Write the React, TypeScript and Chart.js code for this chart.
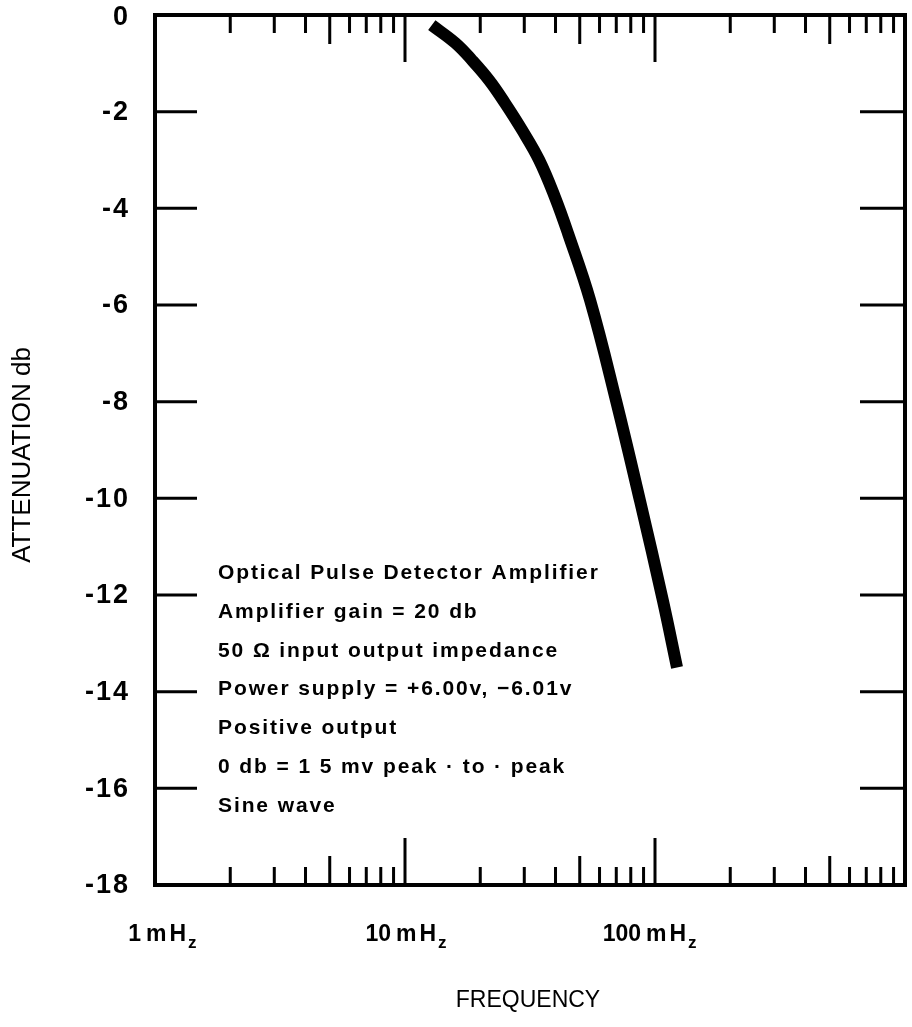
import React, { useEffect, useRef } from "react";
import { Chart, registerables } from "chart.js";

Chart.register(...registerables);

// Curve data (frequency in mHz, attenuation in db)
const frequencies = [12.8, 15.9, 18.5, 21.7, 25.1, 29.4, 34.4, 39.8, 44.9, 55.0, 69.8, 87.1, 107.6, 122.5];
const attenuation = [-0.21, -0.58, -0.93, -1.35, -1.82, -2.38, -3.0, -3.77, -4.52, -5.9, -7.97, -10.05, -12.12, -13.5];

// Axis ticks
const yTicks = [0, -2, -4, -6, -8, -10, -12, -14, -16, -18];
const yTickLabels = ["0", "-2", "-4", "-6", "-8", "-10", "-12", "-14", "-16", "-18"];
const xDecades = [1, 10, 100];
const xDecadeLabels = ["1", "10", "100"];
const xMinorMultipliers = [2, 3, 4, 5, 6, 7, 8, 9];

const yTitle = "ATTENUATION db";
const xTitle = "FREQUENCY";
const annotationLines = [
  "Optical Pulse Detector Amplifier",
  "Amplifier gain = 20 db",
  "50 \u03A9 input output impedance",
  "Power supply = +6.00v, \u22126.01v",
  "Positive output",
  "0 db = 1 5 mv peak \u00B7 to \u00B7 peak",
  "Sine wave",
];

const framePlugin = {
  id: "framePlugin",
  afterDraw(chart: any) {
    const { ctx, chartArea } = chart;
    const xs = chart.scales.x;
    const ys = chart.scales.y;
    const { left, right, top, bottom } = chartArea;
    ctx.save();
    ctx.strokeStyle = "#000";
    ctx.fillStyle = "#000";
    ctx.lineCap = "butt";

    // frame
    ctx.lineWidth = 4;
    ctx.strokeRect(left, top, right - left, bottom - top);

    // x ticks (top and bottom, inward)
    ctx.lineWidth = 3;
    const drawX = (v: number, len: number) => {
      const px = xs.getPixelForValue(v);
      if (px <= left + 2 || px >= right - 2) return;
      ctx.beginPath();
      ctx.moveTo(px, bottom);
      ctx.lineTo(px, bottom - len);
      ctx.moveTo(px, top);
      ctx.lineTo(px, top + len);
      ctx.stroke();
    };
    xDecades.forEach((d) => {
      drawX(d, 47);
      xMinorMultipliers.forEach((m) => drawX(d * m, m === 5 ? 29 : 18));
    });

    // y ticks (left and right, inward)
    yTicks.forEach((v) => {
      const py = ys.getPixelForValue(v);
      if (py <= top + 2 || py >= bottom - 2) return;
      ctx.beginPath();
      ctx.moveTo(left, py);
      ctx.lineTo(left + 42, py);
      ctx.moveTo(right, py);
      ctx.lineTo(right - 45, py);
      ctx.stroke();
    });

    // y tick labels
    ctx.font = "bold 27px 'Liberation Sans', Arial, sans-serif";
    (ctx as any).letterSpacing = "2px";
    ctx.textAlign = "right";
    ctx.textBaseline = "middle";
    yTicks.forEach((v, i) => {
      const py = ys.getPixelForValue(v);
      ctx.fillText(yTickLabels[i], left - 25, py + (i === 0 ? 3 : 1));
    });
    (ctx as any).letterSpacing = "0px";

    // x tick labels with subscript z
    ctx.textBaseline = "alphabetic";
    xDecades.forEach((d, i) => {
      const px = xs.getPixelForValue(d);
      const base = bottom + 56;
      ctx.font = "bold 23px 'Liberation Sans', Arial, sans-serif";
      ctx.textAlign = "right";
      ctx.fillText(xDecadeLabels[i], px - 14, base);
      ctx.textAlign = "left";
      let cx = px - 9;
      ctx.fillText("m", cx, base);
      cx += ctx.measureText("m").width + 3;
      ctx.fillText("H", cx, base);
      cx += ctx.measureText("H").width + 2;
      ctx.font = "bold 17px 'Liberation Sans', Arial, sans-serif";
      ctx.fillText("z", cx, base + 7);
    });

    // axis titles
    ctx.font = "26px 'Liberation Sans', Arial, sans-serif";
    ctx.textAlign = "center";
    ctx.textBaseline = "middle";
    ctx.save();
    ctx.translate(23, 455);
    ctx.rotate(-Math.PI / 2);
    ctx.fillText(yTitle, 0, 0);
    ctx.restore();
    ctx.font = "23px 'Liberation Sans', Arial, sans-serif";
    ctx.fillText(xTitle, (left + right) / 2 - 2, bottom + 116);

    // annotation block
    ctx.font = "bold 21px 'Liberation Sans', Arial, sans-serif";
    (ctx as any).letterSpacing = "1.9px";
    ctx.textAlign = "left";
    ctx.textBaseline = "alphabetic";
    annotationLines.forEach((line, i) => {
      ctx.fillText(line, 218, 579 + i * 38.8);
    });
    ctx.restore();
  },
};

export default function App() {
  const ref = useRef<HTMLCanvasElement | null>(null);
  useEffect(() => {
    if (!ref.current) return;
    const chart = new Chart(ref.current, {
      type: "line",
      data: {
        datasets: [
          {
            data: frequencies.map((f, i) => ({ x: f, y: attenuation[i] })),
            borderColor: "#000",
            borderWidth: 12,
            borderCapStyle: "butt",
            borderJoinStyle: "round",
            pointRadius: 0,
            tension: 0.4,
            fill: false,
          },
        ],
      },
      options: {
        animation: false,
        responsive: false,
        devicePixelRatio: 1,
        layout: { padding: { left: 155, right: 7, top: 15, bottom: 142 } },
        plugins: { legend: { display: false }, tooltip: { enabled: false } },
        scales: {
          x: { type: "logarithmic", min: 1, max: 1000, display: false },
          y: { type: "linear", min: -18, max: 0, display: false },
        },
      },
      plugins: [framePlugin],
    });
    return () => chart.destroy();
  }, []);
  return (
    <div style={{ position: "absolute", left: 0, top: 0, width: 912, height: 1027, background: "#fff" }}>
      <canvas ref={ref} width={912} height={1027} style={{ width: 912, height: 1027 }} />
    </div>
  );
}
